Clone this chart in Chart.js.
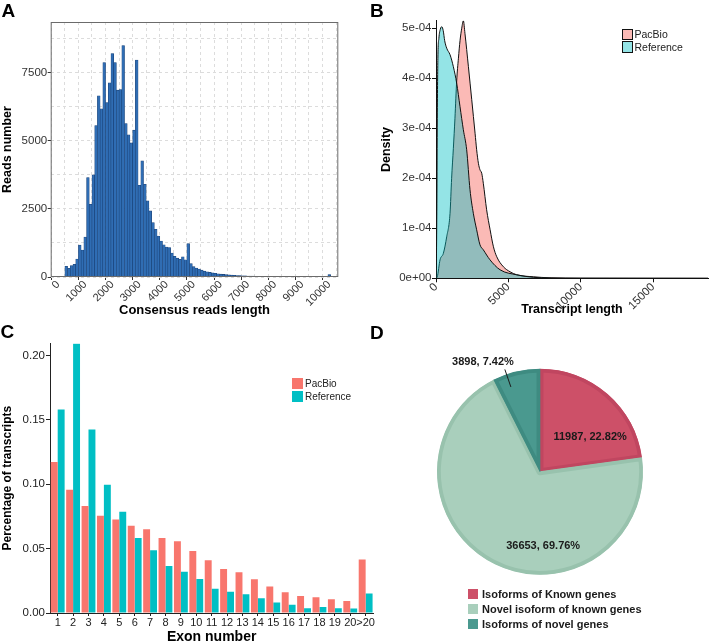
<!DOCTYPE html>
<html>
<head>
<meta charset="utf-8">
<title>Transcript summary</title>
<script src="https://cdn.jsdelivr.net/npm/chart.js@4.4.1/dist/chart.umd.min.js"></script>
<style>
  html, body { margin: 0; padding: 0; background: #fff; }
  body { position: relative; width: 709px; height: 642px; overflow: hidden;
         font-family: "Liberation Sans", Arial, sans-serif; color: #000; }
  canvas { position: absolute; }
  .tag { position: absolute; font-size: 19px; font-weight: bold; line-height: 1; }
  .legend { position: absolute; }
  .legend .item { display: flex; align-items: center; white-space: nowrap; }
  .legend .swatch { display: inline-block; box-sizing: border-box; flex: none; }
  #legendB { left: 621.5px; top: 28px; font-size: 10.5px; color: #222; }
  #legendB .item { height: 12.5px; }
  #legendB .swatch { width: 11.5px; height: 11.5px; border: 1px solid #333; margin-right: 1.5px; }
  #legendC { left: 291.5px; top: 377.5px; font-size: 10px; color: #222; }
  #legendC .item { height: 12.5px; }
  #legendC .swatch { width: 11.5px; height: 11px; margin-right: 2px; }
  #legendD { left: 468px; top: 586.5px; font-size: 11px; font-weight: bold; color: #1a1a1a; }
  #legendD .item { height: 15px; }
  #legendD .swatch { width: 10px; height: 10px; margin-right: 4px; }
</style>
</head>
<body>
<canvas id="chartA" width="350" height="320" style="left:0;top:0"></canvas>
<canvas id="chartB" width="359" height="320" style="left:350px;top:0"></canvas>
<canvas id="chartC" width="375" height="322" style="left:0;top:320px"></canvas>
<canvas id="chartD" width="359" height="322" style="left:350px;top:320px"></canvas>
<div class="tag" style="left:1.5px;top:1px">A</div>
<div class="tag" style="left:370px;top:1px">B</div>
<div class="tag" style="left:0.5px;top:322px">C</div>
<div class="tag" style="left:370px;top:322.5px">D</div>
<div class="legend" id="legendB"></div>
<div class="legend" id="legendC"></div>
<div class="legend" id="legendD"></div>
<script>
// A: consensus reads length histogram (bin centres, 100 bp bins)
const lengthBins = [
  300, 400, 500, 600, 700, 800, 900, 1000, 1100, 1200,
  1300, 1400, 1500, 1600, 1700, 1800, 1900, 2000, 2100, 2200,
  2300, 2400, 2500, 2600, 2700, 2800, 2900, 3000, 3100, 3200,
  3300, 3400, 3500, 3600, 3700, 3800, 3900, 4000, 4100, 4200,
  4300, 4400, 4500, 4600, 4700, 4800, 4900, 5000, 5100, 5200,
  5300, 5400, 5500, 5600, 5700, 5800, 5900, 6000, 6100, 6200,
  6300, 6400, 6500, 6600, 6700, 6800, 6900, 7000, 7100, 7200,
  7300, 7400, 7500, 7600, 7700, 7800, 7900, 8000, 8100, 8200,
  8300, 8400, 8500, 8600, 8700, 8800, 8900, 9000, 9100, 9200,
  9300, 9400, 9500, 9600, 9700, 9800, 9900, 10000
];
const readCounts = [
  392, 318, 416, 465, 658, 1174, 990, 1468, 3645, 2667,
  3743, 5553, 6643, 6166, 7865, 6397, 7120, 8195, 7865, 6852,
  6874, 8489, 5626, 5211, 4918, 5384, 7953, 3365, 4257, 3402,
  2790, 2422, 1994, 1750, 1500, 1320, 1180, 1100, 1080, 880,
  760, 690, 650, 740, 630, 1222, 488, 380, 330, 290,
  250, 215, 190, 170, 150, 135, 120, 105, 95, 85,
  78, 70, 62, 55, 50, 45, 40, 37, 34, 31,
  28, 26, 24, 22, 20, 18, 17, 16, 14, 13,
  12, 11, 10, 9, 9, 8, 8, 7, 7, 6,
  6, 5, 5, 5, 4, 4, 4, 90
];
const lengthTicks = [0, 500, 1000, 1500, 2000, 2500, 3000, 3500, 4000, 4500, 5000,
  5500, 6000, 6500, 7000, 7500, 8000, 8500, 9000, 9500, 10000];
const countTicks = [0, 1250, 2500, 3750, 5000, 6250, 7500, 8750];

// B: transcript length density
const pacbioLength = [0, 90, 280, 510, 740, 970, 1080, 1200, 1310, 1430,
  1550, 1660, 1780, 1890, 2000, 2240, 2470, 2700, 2810, 2930,
  3040, 3160, 3270, 3500, 3740, 3970, 4200, 4660, 5120, 5580,
  6730, 7880, 10000, 18800];
const pacbioDensity = [0, 0.03e-4, 0.37e-4, 0.5e-4, 0.83e-4, 1.3e-4, 2.0e-4, 2.6e-4, 3.2e-4, 3.95e-4,
  4.4e-4, 4.75e-4, 5.0e-4, 5.15e-4, 4.9e-4, 4.23e-4, 3.57e-4, 2.9e-4, 2.57e-4, 2.3e-4,
  2.17e-4, 2.1e-4, 1.9e-4, 1.37e-4, 0.97e-4, 0.63e-4, 0.43e-4, 0.23e-4, 0.13e-4, 0.07e-4,
  0.03e-4, 0.01e-4, 0.002e-4, 0];
const refLength = [0, 30, 60, 90, 130, 200, 300, 400, 500, 600,
  740, 970, 1200, 1430, 1660, 1890, 2120, 2350, 2580, 2810,
  3040, 3270, 3730, 4430, 5580, 6730, 8000, 12000, 18800];
const refDensity = [0, 0.4e-4, 1.5e-4, 3.2e-4, 4.4e-4, 4.8e-4, 4.98e-4, 5.03e-4, 4.95e-4, 4.75e-4,
  4.6e-4, 4.47e-4, 4.23e-4, 3.9e-4, 3.43e-4, 2.97e-4, 2.57e-4, 1.77e-4, 1.3e-4, 0.97e-4,
  0.67e-4, 0.57e-4, 0.37e-4, 0.17e-4, 0.07e-4, 0.02e-4, 0.005e-4, 0.001e-4, 0];
const densityTicks = [0, 1e-4, 2e-4, 3e-4, 4e-4, 5e-4];
const transcriptTicks = [0, 5000, 10000, 15000];

// C: exon number distribution
const exonLabels = ['1', '2', '3', '4', '5', '6', '7', '8', '9', '10',
  '11', '12', '13', '14', '15', '16', '17', '18', '19', '20', '>20'];
const pacbioPct = [0.1172, 0.0958, 0.0831, 0.0756, 0.0727, 0.0678, 0.065, 0.0582, 0.0557, 0.0482,
  0.0409, 0.0342, 0.0316, 0.0262, 0.0205, 0.0161, 0.0132, 0.0122, 0.0106, 0.0093, 0.0415];
const refPct = [0.158, 0.2092, 0.1426, 0.0997, 0.0787, 0.0582, 0.0487, 0.0365, 0.0321, 0.0264,
  0.0189, 0.0166, 0.0145, 0.0114, 0.0081, 0.0065, 0.0036, 0.0047, 0.0036, 0.0034, 0.0151];
const pctTicks = [0, 0.05, 0.1, 0.15, 0.2];

// D: isoform classes
const isoformGroups = ['Isoforms of Known genes', 'Novel isoform of known genes', 'Isoforms of novel genes'];
const isoformCounts = [11987, 36653, 3898];

Chart.defaults.font.family = '"Liberation Sans", Arial, sans-serif';
Chart.defaults.color = '#333';

const bold = (size, lineHeight) => ({ size, weight: 'bold', lineHeight: lineHeight || 1.2 });
const setTicks = vals => s => { s.ticks = vals.map(v => ({ value: v })); };

// grey frame round the plot area (theme_bw look)
const panelBorder = {
  id: 'panelBorder',
  afterDatasetsDraw(chart, args, opts) {
    const { ctx, chartArea: a } = chart;
    ctx.save();
    ctx.strokeStyle = opts.color;
    ctx.lineWidth = 1;
    ctx.strokeRect(a.left + 0.5, a.top + 0.5, a.width - 1, a.height - 1);
    ctx.restore();
  }
};

// value labels on the pie
const sliceLabels = {
  id: 'sliceLabels',
  afterDatasetsDraw(chart, args, opts) {
    const { ctx } = chart;
    const meta = chart.getDatasetMeta(0);
    const total = isoformCounts.reduce((a, b) => a + b, 0);
    ctx.save();
    ctx.font = 'bold 11px "Liberation Sans", Arial, sans-serif';
    ctx.fillStyle = '#1a1a1a';
    ctx.strokeStyle = '#1a1a1a';
    ctx.textBaseline = 'middle';
    meta.data.forEach((arc, i) => {
      const p = arc.getProps(['x', 'y', 'startAngle', 'endAngle', 'outerRadius'], true);
      const spot = opts.spots[i];
      const ang = p.startAngle + (p.endAngle - p.startAngle) * spot.t;
      const text = isoformCounts[i] + ', ' + (isoformCounts[i] / total * 100).toFixed(2) + '%';
      const at = r => [p.x + Math.cos(ang) * p.outerRadius * r, p.y + Math.sin(ang) * p.outerRadius * r];
      if (spot.leader) {
        const [x0, y0] = at(spot.leader[0]);
        const [x1, y1] = at(spot.leader[1]);
        ctx.lineWidth = 1;
        ctx.beginPath();
        ctx.moveTo(x0, y0);
        ctx.lineTo(x1, y1);
        ctx.stroke();
        ctx.textAlign = 'right';
        ctx.fillText(text, x1 + 9, y1 - 7);
      } else {
        const [x, y] = at(spot.r);
        ctx.textAlign = 'center';
        ctx.fillText(text, x, y);
      }
    });
    ctx.restore();
  }
};

function htmlLegend(chart, id, withBorder) {
  const box = document.getElementById(id);
  const items = chart.options.plugins.legend.labels.generateLabels(chart);
  items.sort((a, b) => (a.datasetIndex ?? a.index) - (b.datasetIndex ?? b.index));
  items.forEach(item => {
    const row = document.createElement('div');
    row.className = 'item';
    const sw = document.createElement('span');
    sw.className = 'swatch';
    sw.style.background = item.fillStyle;
    if (withBorder) sw.style.borderColor = item.strokeStyle;
    const txt = document.createElement('span');
    txt.textContent = item.text;
    row.append(sw, txt);
    box.appendChild(row);
  });
}

// ---- A ----
new Chart(document.getElementById('chartA'), {
  type: 'bar',
  data: {
    datasets: [{
      label: 'Reads',
      data: lengthBins.map((x, i) => ({ x, y: readCounts[i] })),
      backgroundColor: '#2f6db4',
      borderColor: '#1a4277',
      borderWidth: 0.6,
      barPercentage: 1,
      categoryPercentage: 1
    }]
  },
  options: {
    responsive: false,
    animation: false,
    layout: { padding: { top: 22, right: 11.7, left: 0, bottom: 0 } },
    plugins: { legend: { display: false }, tooltip: { enabled: false }, panelBorder: { color: '#6b6b6b' } },
    scales: {
      x: {
        type: 'linear', min: -20, max: 10080,
        afterBuildTicks: setTicks(lengthTicks),
        afterFit: s => { s.height = 43; },
        grid: {
          color: '#dcdcdc', tickLength: 3,
          tickColor: c => (c.tick && c.tick.value % 1000 === 0 ? '#333' : 'rgba(0,0,0,0)')
        },
        border: { display: false, dash: [3, 3] },
        ticks: {
          autoSkip: false, minRotation: 45, maxRotation: 45, padding: -2,
          font: { size: 11 }, color: '#333',
          callback: v => (v % 1000 === 0 ? String(v) : '')
        },
        title: { display: true, text: 'Consensus reads length', font: bold(13), color: '#000', padding: { top: 0, bottom: 1.5 } }
      },
      y: {
        min: 0, max: 9350,
        afterBuildTicks: setTicks(countTicks),
        afterFit: s => { s.width = 50.7; },
        grid: {
          color: '#dcdcdc', tickLength: 3,
          tickColor: c => (c.tick && c.tick.value % 2500 === 0 ? '#333' : 'rgba(0,0,0,0)')
        },
        border: { display: false, dash: [3, 3] },
        ticks: {
          padding: 0.5, font: { size: 11.5 }, color: '#333',
          callback: v => (v % 2500 === 0 ? String(v) : '')
        },
        title: { display: true, text: 'Reads number', font: bold(12.5, 0.9), color: '#000', padding: { top: 1.5 } }
      }
    }
  },
  plugins: [panelBorder]
});

// ---- B ----
const chartB = new Chart(document.getElementById('chartB'), {
  type: 'line',
  data: {
    datasets: [
      {
        label: 'PacBio',
        data: pacbioLength.map((x, i) => ({ x, y: pacbioDensity[i] })),
        backgroundColor: 'rgba(248,118,109,0.5)',
        borderColor: '#111',
        order: 1
      },
      {
        label: 'Reference',
        data: refLength.map((x, i) => ({ x, y: refDensity[i] })),
        backgroundColor: 'rgba(0,191,196,0.42)',
        borderColor: '#111',
        order: 0
      }
    ]
  },
  options: {
    responsive: false,
    animation: false,
    datasets: { line: { fill: 'origin', pointRadius: 0, borderWidth: 1, cubicInterpolationMode: 'monotone' } },
    layout: { padding: { top: 20.7, right: 1, left: 0, bottom: 0 } },
    plugins: { legend: { display: false }, tooltip: { enabled: false } },
    scales: {
      x: {
        type: 'linear', min: 0, max: 18800,
        afterBuildTicks: setTicks(transcriptTicks),
        afterFit: s => { s.height = 41.7; },
        grid: { drawOnChartArea: false, tickLength: 4, tickColor: '#111' },
        border: { color: '#111', width: 1 },
        ticks: {
          autoSkip: false, minRotation: 45, maxRotation: 45, padding: -2,
          font: { size: 11.5 }, color: '#333', callback: v => String(v)
        },
        title: { display: true, text: 'Transcript length', font: bold(12.5), color: '#000', padding: { top: 0, bottom: 3.2 } }
      },
      y: {
        min: 0, max: 5.15e-4,
        afterBuildTicks: setTicks(densityTicks),
        afterFit: s => { s.width = 86; },
        grid: { drawOnChartArea: false, tickLength: 4, tickColor: '#111' },
        border: { color: '#111', width: 1 },
        ticks: {
          padding: 0.5, font: { size: 11.5 }, color: '#333',
          callback: v => (v === 0 ? '0e+00' : v.toExponential(0).replace(/e-(\d)$/, 'e-0$1'))
        },
        title: { display: true, text: 'Density', font: bold(12.5), color: '#000', padding: { top: 28.6 } }
      }
    }
  }
});
htmlLegend(chartB, 'legendB', true);

// ---- C ----
const chartC = new Chart(document.getElementById('chartC'), {
  type: 'bar',
  data: {
    labels: exonLabels,
    datasets: [
      { label: 'PacBio', data: pacbioPct, backgroundColor: '#F8766D' },
      { label: 'Reference', data: refPct, backgroundColor: '#00BFC4' }
    ]
  },
  options: {
    responsive: false,
    animation: false,
    datasets: { bar: { categoryPercentage: 0.9, barPercentage: 1 } },
    layout: { padding: { top: 23.3, right: 1, left: 0, bottom: 0 } },
    plugins: { legend: { display: false }, tooltip: { enabled: false } },
    scales: {
      x: {
        afterFit: s => { s.height = 29; },
        grid: { drawOnChartArea: false, offset: false, tickLength: 3, tickColor: '#222' },
        border: { color: '#222', width: 1 },
        ticks: { autoSkip: false, maxRotation: 0, padding: 0, font: { size: 11 }, color: '#222' },
        title: { display: true, text: 'Exon number', font: bold(14, 0.75), color: '#000', padding: 0 }
      },
      y: {
        min: 0, max: 0.2095,
        afterBuildTicks: setTicks(pctTicks),
        afterFit: s => { s.width = 50; },
        grid: { drawOnChartArea: false, tickLength: 4, tickColor: '#222' },
        border: { color: '#222', width: 1 },
        ticks: { padding: 1, font: { size: 11.5 }, color: '#222', callback: v => v.toFixed(2) },
        title: { display: true, text: 'Percentage of transcripts', font: bold(12), color: '#000', padding: { top: 0.5 } }
      }
    }
  }
});
htmlLegend(chartC, 'legendC', false);

// ---- D ----
const chartD = new Chart(document.getElementById('chartD'), {
  type: 'pie',
  data: {
    labels: isoformGroups,
    datasets: [{
      data: isoformCounts,
      backgroundColor: ['#cd5068', '#a9cfbc', '#4a998f'],
      borderColor: ['#c04660', '#98c2ad', '#3e8b81'],
      borderWidth: 3.5,
      borderAlign: 'inner'
    }]
  },
  options: {
    responsive: false,
    animation: false,
    layout: { padding: { left: 87, right: 66, top: 48.7, bottom: 67.3 } },
    plugins: {
      legend: { display: false },
      tooltip: { enabled: false },
      sliceLabels: {
        spots: [
          { t: 0.676, r: 0.59 },
          { t: 0.38, r: 0.722 },
          { t: 0.29, leader: [0.87, 1.05] }
        ]
      }
    }
  },
  plugins: [sliceLabels]
});
htmlLegend(chartD, 'legendD', false);
</script>
</body>
</html>
